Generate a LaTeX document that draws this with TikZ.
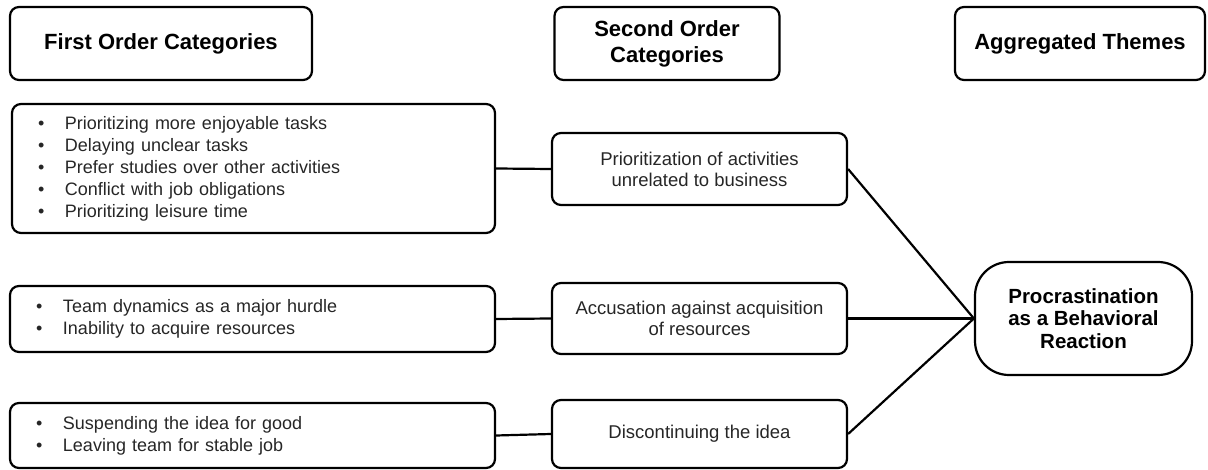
\documentclass[tikz,border=0pt]{standalone}
\usepackage{fontspec}
\setmainfont{Liberation Sans}
\begin{document}
\begin{tikzpicture}[x=1pt,y=-1pt,
  box/.style={draw, line width=2.2pt, rounded corners=9pt, inner sep=0pt, anchor=center},
  hdr/.style={box, font=\bfseries\fontsize{22}{26}\selectfont, align=center},
  cat/.style={box, text=black!85, font=\fontsize{18.5}{21}\selectfont, align=center},
  lst/.style={box, text=black!85, font=\fontsize{18}{22}\selectfont, align=left},
  link/.style={line width=2.2pt}]
\useasboundingbox (0,0) rectangle (1208,470);
\newcommand{\bl}{\makebox[27pt][l]{\textbullet}}
% headers
\node[hdr, minimum width=302pt, minimum height=73pt] (h1) at (161,43.5) {First Order Categories};
\node[hdr, minimum width=225pt, minimum height=73pt] (h2) at (667,43.5) {Second Order\\Categories};
\node[hdr, minimum width=250pt, minimum height=73pt] (h3) at (1080,43.5) {Aggregated Themes};
% first order lists
\node[lst, minimum width=483pt, minimum height=129pt, text width=431pt] (l1) at (253.5,168.5)
  {\bl Prioritizing more enjoyable tasks\\\bl Delaying unclear tasks\\\bl Prefer studies over other activities\\\bl Conflict with job obligations\\\bl Prioritizing leisure time};
\node[lst, minimum width=485pt, minimum height=66pt, text width=433pt] (l2) at (252.5,319)
  {\bl Team dynamics as a major hurdle\\\bl Inability to acquire resources};
\node[lst, minimum width=485pt, minimum height=65pt, text width=433pt] (l3) at (252.5,435.5)
  {\bl Suspending the idea for good\\\bl Leaving team for stable job};
% second order
\node[cat, minimum width=295pt, minimum height=72pt] (c1) at (699.5,169) {Prioritization of activities\\unrelated to business};
\node[cat, minimum width=295pt, minimum height=71pt] (c2) at (699.5,318.5) {Accusation against acquisition\\of resources};
\node[cat, minimum width=295pt, minimum height=68pt] (c3) at (699.5,434) {Discontinuing the idea};
% aggregated
\node[box, rounded corners=34pt, minimum width=217pt, minimum height=113pt, align=center,
  font=\bfseries\fontsize{20.5}{22.5}\selectfont] (agg) at (1083.5,318.5) {Procrastination\\as a Behavioral\\Reaction};
% connectors
\draw[link] (l1.east) -- (c1.west);
\draw[link] (l2.east) -- (c2.west);
\draw[link] (l3.east) -- (c3.west);
\draw[link] (c1.east) -- (agg.west);
\draw[link] (c2.east) -- (agg.west);
\draw[link] (c3.east) -- (agg.west);
\end{tikzpicture}
\end{document}
